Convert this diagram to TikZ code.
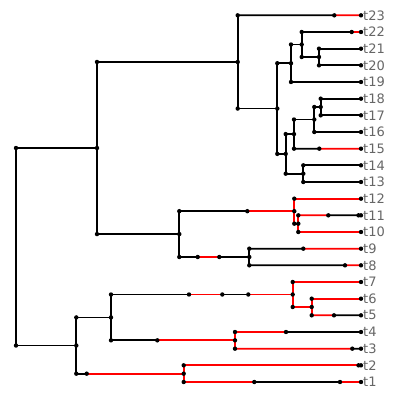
\documentclass[tikz,border=0pt]{standalone}
\usepackage{fontspec}
\setmainfont{DejaVu Sans}
\begin{document}
\begin{tikzpicture}[x=1bp,y=-1bp,
    blk/.style={line width=1.8bp,black},
    rd/.style={line width=1.8bp,red},
    tiplabel/.style={anchor=west,inner sep=0pt,xshift=2bp,text=black!60,
      font=\fontsize{13bp}{15bp}\selectfont}]
  \useasboundingbox (0,0) rectangle (400,399);

  % tips and their labels
  \foreach \i in {1,...,23}
    \coordinate (t\i) at (361,{382-(\i-1)*16.6667});
  \foreach \i in {1,...,23}
    \node[tiplabel] (l\i) at (t\i) {t\i};

  % internal nodes
  \coordinate (root) at (16,246.78);
  \coordinate (A) at (97,148.02);
  \coordinate (B) at (237.7,61.95);
  \coordinate (D) at (277.3,108.56);
  \coordinate (E) at (291,63.25);
  \coordinate (G) at (301.7,44.5);
  \coordinate (H) at (319,57);
  \coordinate (F) at (285.7,153.88);
  \coordinate (I) at (294,134.08);
  \coordinate (K) at (314.3,119.5);
  \coordinate (L) at (320.7,107);
  \coordinate (J) at (303.3,173.67);
  \coordinate (C) at (179.3,234.08);
  \coordinate (M) at (294.3,211.17);
  \coordinate (N) at (298.3,223.67);
  \coordinate (O) at (249.3,257);
  \coordinate (P) at (76.3,345.54);
  \coordinate (Q) at (111,317.42);
  \coordinate (R) at (183.7,373.67);
  \coordinate (S) at (292.7,294.5);
  \coordinate (T) at (311.7,307);
  \coordinate (U) at (235,340.33);

  % state changes along branches
  \coordinate (c23) at (334.3,15.33);
  \coordinate (c22) at (351.7,32);
  \coordinate (c15) at (319.3,148.67);
  \coordinate (cM) at (247.3,211.17);
  \coordinate (cO1) at (197.7,257);
  \coordinate (cO2) at (219.3,257);
  \coordinate (c11) at (328.3,215.33);
  \coordinate (d11) at (358.5,215.33);
  \coordinate (c9) at (303.3,248.67);
  \coordinate (c8) at (345,265.33);
  \coordinate (cR) at (86.7,373.67);
  \coordinate (d2) at (358.5,365.33);
  \coordinate (c1a) at (254.3,382);
  \coordinate (c1b) at (340,382);
  \coordinate (cS1) at (189,294.5);
  \coordinate (cS2) at (222.3,294.5);
  \coordinate (cS3) at (248.3,294.5);
  \coordinate (cU) at (157.3,340.33);
  \coordinate (c5) at (334,315.33);
  \coordinate (c4) at (286,332);
  \coordinate (c3) at (352.3,348.67);

  % verticals
  \foreach \p/\a/\b in {root/A/P, A/B/C, B/t23/D, D/E/F, E/G/t19, G/t22/H,
      H/t21/t20, F/I/J, I/K/t15, K/L/t16, L/t18/t17, J/t14/t13, C/M/O,
      O/t9/t8, P/Q/R, Q/S/U}
    \draw[blk] (\p |- \a) -- (\p |- \b);
  \foreach \p/\a/\b in {M/t12/N, N/t11/t10, R/t2/t1, S/t7/T, T/t6/t5, U/t4/t3}
    \draw[rd] (\p |- \a) -- (\p |- \b);

  % branches in one state
  \foreach \p/\c in {root/A, root/P, A/B, A/C, B/D, D/E, D/F, E/G, E/t19,
      G/H, H/t21, H/t20, F/I, F/J, I/K, K/L, K/t16, L/t18, L/t17, J/t14,
      J/t13, M/N, P/Q}
    \draw[blk] (\p |- \c) -- (\c);
  \foreach \p/\c in {M/t12, N/t10, R/t2, S/t7, S/T, T/t6}
    \draw[rd] (\p |- \c) -- (\c);

  % branches with changes
  \draw[blk] (B |- t23) -- (c23); \draw[rd] (c23) -- (t23);
  \draw[blk] (G |- t22) -- (c22); \draw[rd] (c22) -- (t22);
  \draw[blk] (I |- t15) -- (c15); \draw[rd] (c15) -- (t15);
  \draw[blk] (C |- M) -- (cM); \draw[rd] (cM) -- (M);
  \draw[blk] (C |- O) -- (cO1); \draw[rd] (cO1) -- (cO2); \draw[blk] (cO2) -- (O);
  \draw[rd] (N |- t11) -- (c11); \draw[blk] (c11) -- (t11);
  \draw[blk] (O |- t9) -- (c9); \draw[rd] (c9) -- (t9);
  \draw[blk] (O |- t8) -- (c8); \draw[rd] (c8) -- (t8);
  \draw[blk] (P |- R) -- (cR); \draw[rd] (cR) -- (R);
  \draw[rd] (R |- t1) -- (c1a); \draw[blk] (c1a) -- (c1b); \draw[rd] (c1b) -- (t1);
  \draw[blk] (Q |- S) -- (cS1); \draw[rd] (cS1) -- (cS2);
  \draw[blk] (cS2) -- (cS3); \draw[rd] (cS3) -- (S);
  \draw[blk] (Q |- U) -- (cU); \draw[rd] (cU) -- (U);
  \draw[rd] (T |- t5) -- (c5); \draw[blk] (c5) -- (t5);
  \draw[rd] (U |- t4) -- (c4); \draw[blk] (c4) -- (t4);
  \draw[rd] (U |- t3) -- (c3); \draw[blk] (c3) -- (t3);

  % dots
  \foreach \p/\c in {root/A, root/P, A/B, A/C, B/t23, B/D, D/E, D/F, E/G,
      E/t19, G/t22, G/H, H/t21, H/t20, F/I, F/J, I/K, I/t15, K/L, K/t16,
      L/t18, L/t17, J/t14, J/t13, C/M, C/O, M/t12, M/N, N/t11, N/t10, O/t9,
      O/t8, P/Q, P/R, R/t2, R/t1, Q/S, Q/U, S/t7, S/T, T/t6, T/t5, U/t4, U/t3}
    \fill (\p |- \c) circle (2.2bp);
  \foreach \c in {A, B, D, E, G, H, F, I, K, L, J, C, M, N, O, P, Q, R, S, T, U,
      c23, c22, c15, cM, cO1, cO2, c11, d11, c9, c8, cR, d2, c1a, c1b,
      cS1, cS2, cS3, cU, c5, c4, c3}
    \fill (\c) circle (2.2bp);
  \foreach \i in {1,...,23}
    \fill (t\i) circle (2.2bp);
\end{tikzpicture}
\end{document}
